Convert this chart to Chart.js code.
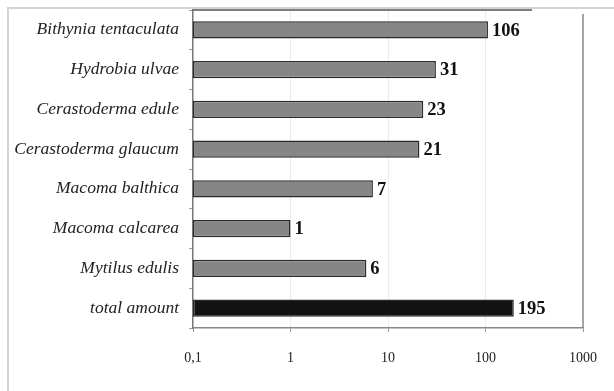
<!DOCTYPE html>
<html>
<head>
<meta charset="utf-8">
<script src="https://cdn.jsdelivr.net/npm/chart.js@4/dist/chart.umd.min.js"></script>
<style>
  html, body { margin: 0; padding: 0; background: #fff; }
  #wrap { width: 614px; height: 391px; position: relative; }
</style>
</head>
<body>
<div id="wrap"><canvas id="c" width="614" height="391"></canvas></div>
<script>
// Species found, with number of specimens (log scale)
const species = [
  'Bithynia tentaculata',
  'Hydrobia ulvae',
  'Cerastoderma edule',
  'Cerastoderma glaucum',
  'Macoma balthica',
  'Macoma calcarea',
  'Mytilus edulis',
  'total amount'
];
const counts = [106, 31, 23, 21, 7, 1, 6, 195];
const tickValues = [0.1, 1, 10, 100, 1000];
const tickLabels = ['0,1', '1', '10', '100', '1000'];

const barFill = species.map(s => s === 'total amount' ? '#121212' : '#868686');

// Outer frame and the top/right edges of the plot box
const framePlugin = {
  id: 'frame',
  beforeDraw(chart) {
    const ctx = chart.ctx;
    ctx.save();
    ctx.strokeStyle = '#d4d4d4';
    ctx.lineWidth = 2;
    ctx.beginPath();
    ctx.moveTo(8, 391);
    ctx.lineTo(8, 8);
    ctx.lineTo(614, 8);
    ctx.stroke();
    ctx.restore();
  },
  afterDraw(chart) {
    const { ctx, chartArea: a } = chart;
    ctx.save();
    ctx.lineWidth = 1.5;
    ctx.strokeStyle = '#555';
    ctx.beginPath();
    ctx.moveTo(a.left, a.top);
    ctx.lineTo(a.right - 51, a.top);
    ctx.stroke();
    ctx.strokeStyle = '#888';
    ctx.beginPath();
    ctx.moveTo(a.right, a.top + 4);
    ctx.lineTo(a.right, a.bottom);
    ctx.stroke();
    ctx.restore();
  }
};

// Value printed to the right of each bar
const valueLabels = {
  id: 'valueLabels',
  afterDatasetsDraw(chart) {
    const ctx = chart.ctx;
    const meta = chart.getDatasetMeta(0);
    ctx.save();
    ctx.font = 'bold 18.5px "Liberation Serif", "DejaVu Serif", serif';
    ctx.fillStyle = '#111';
    ctx.textAlign = 'left';
    ctx.textBaseline = 'middle';
    meta.data.forEach((bar, i) => {
      ctx.fillText(String(counts[i]), bar.x + 4, bar.y + 1);
    });
    ctx.restore();
  }
};

new Chart(document.getElementById('c'), {
  type: 'bar',
  data: {
    labels: species,
    datasets: [{
      data: counts,
      backgroundColor: barFill,
      borderColor: '#2a2a2a',
      borderWidth: 1.5,
      borderSkipped: false,
      categoryPercentage: 1,
      barPercentage: 0.44
    }]
  },
  options: {
    indexAxis: 'y',
    responsive: false,
    animation: false,
    devicePixelRatio: 1,
    layout: { padding: { top: 10, right: 31, left: 0, bottom: 0 } },
    plugins: {
      legend: { display: false },
      tooltip: { enabled: false }
    },
    scales: {
      x: {
        type: 'logarithmic',
        min: 0.1,
        max: 1000,
        afterBuildTicks(scale) {
          scale.ticks = tickValues.map(v => ({ value: v }));
        },
        afterFit(scale) {
          scale.height = 63;
          scale.paddingLeft = 0;
          scale.paddingRight = 0;
        },
        ticks: {
          autoSkip: false,
          maxRotation: 0,
          padding: 18,
          color: '#222',
          font: { family: '"Liberation Serif", "DejaVu Serif", serif', size: 14 },
          callback(value) {
            const i = tickValues.indexOf(value);
            return i >= 0 ? tickLabels[i] : '';
          }
        },
        grid: {
          color: ctx => (ctx.index === 0 || ctx.index === tickValues.length - 1) ? 'rgba(0,0,0,0)' : '#ececec',
          tickColor: '#999',
          tickLength: 4,
          lineWidth: 1
        },
        border: { color: '#888', width: 1.5 }
      },
      y: {
        afterFit(scale) {
          scale.width = 193;
          scale.paddingTop = 0;
          scale.paddingBottom = 0;
        },
        ticks: {
          padding: 10,
          color: '#222',
          font: { family: '"Liberation Serif", "DejaVu Serif", serif', size: 17.5, style: 'italic' }
        },
        grid: {
          offset: true,
          drawOnChartArea: false,
          tickLength: 4,
          tickColor: '#999'
        },
        border: { color: '#777', width: 1.5 }
      }
    }
  },
  plugins: [framePlugin, valueLabels]
});
</script>
</body>
</html>
